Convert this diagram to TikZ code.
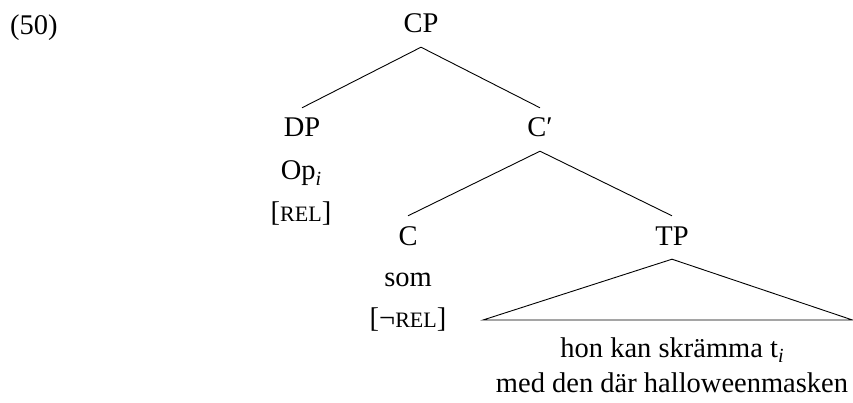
\documentclass[tikz,border=0pt]{standalone}
\usepackage{fontspec}
\setmainfont{Liberation Serif}
\newcommand\mysmc[1]{{\fontsize{22}{22}\selectfont #1}}
\newcommand\mysub[1]{\raisebox{-0.2em}{\fontsize{20}{20}\selectfont\itshape #1}}
\tikzset{
  txt/.style={font=\fontsize{28.5}{34}\selectfont, anchor=base, inner sep=0pt},
  lab/.style={txt, text height=20pt, text depth=5pt, inner xsep=0pt, inner ysep=9pt},
  branch/.style={line width=0.9pt},
}
\begin{document}
\begin{tikzpicture}[x=1pt,y=-1pt]
\useasboundingbox (0,0) rectangle (853,403);
\node[txt, anchor=base west] (num) at (10,35) {(50)};
% tree labels
\node[lab] (CP) at (421,33) {CP};
\node[lab] (DP) at (302,137) {DP};
\node[lab] (Cbar) at (540,137) {C′};
\node[lab] (C) at (408,245) {C};
\node[lab] (TP) at (672,245) {TP};
% features
\node[txt] (op) at (301,180) {Op\mysub{i}};
\node[txt] (rel) at (301,222) {[\mysmc{REL}]};
\node[txt] (som) at (408,286) {som};
\node[txt] (nrel) at (408,327) {[¬\mysmc{REL}]};
% triangle
\coordinate (tl) at (483,320);
\coordinate (tr) at (852.5,320);
\draw[branch] (CP.south) -- (DP.north);
\draw[branch] (CP.south) -- (Cbar.north);
\draw[branch] (Cbar.south) -- (C.north);
\draw[branch] (Cbar.south) -- (TP.north);
\draw[branch, line join=miter] (TP.south) -- (tl) -- (tr) -- cycle;
% terminal string
\node[txt] (s1) at (672,357) {hon kan skrämma t\mysub{i}};
\node[txt] (s2) at (672,392) {med den där halloweenmasken};
\end{tikzpicture}
\end{document}
